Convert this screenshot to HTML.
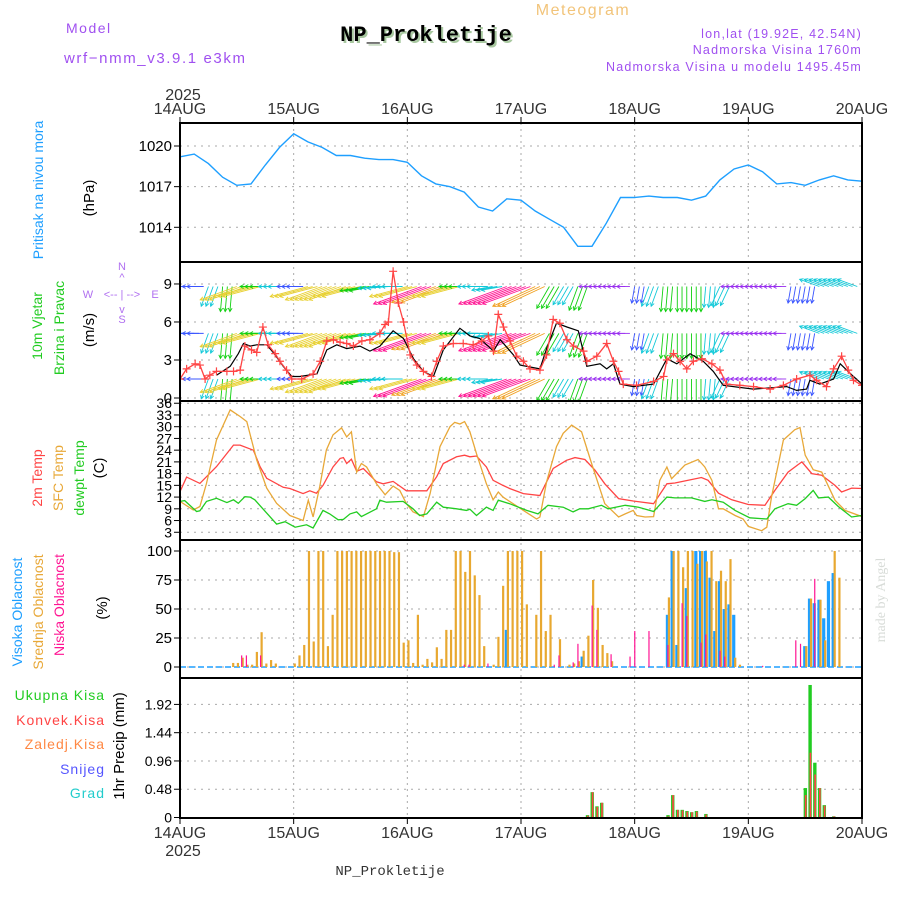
<!DOCTYPE html>
<html><head><meta charset="utf-8">
<style>
html,body{margin:0;padding:0;background:#fff;}
svg{display:block;font-family:"Liberation Sans",sans-serif;}
</style></head>
<body>
<svg id="chart" width="900" height="900" viewBox="0 0 900 900" xmlns="http://www.w3.org/2000/svg">
<defs>
<clipPath id="cP"><rect x="180" y="123" width="682" height="139"/></clipPath>
<clipPath id="cW"><rect x="180" y="262" width="682" height="139"/></clipPath>
<clipPath id="cT"><rect x="180" y="401" width="682" height="139"/></clipPath>
<clipPath id="cC"><rect x="180" y="540" width="682" height="138"/></clipPath>
<clipPath id="cR"><rect x="180" y="678" width="682" height="140"/></clipPath>
</defs>
<g id="header">
<text x="583" y="15" text-anchor="middle" font-size="16" fill="#f2c47a" letter-spacing="1.5">Meteogram</text>
<text x="428" y="43" text-anchor="middle" font-size="22" font-weight="bold" font-family="Liberation Mono, monospace" fill="#a8c8a0">NP_Prokletije</text>
<text x="426" y="41" text-anchor="middle" font-size="22" font-weight="bold" font-family="Liberation Mono, monospace" fill="#000">NP_Prokletije</text>
<text x="66" y="33" font-size="14" fill="#a050f0" letter-spacing="1.5">Model</text>
<text x="64" y="63" font-size="15" fill="#a050f0" letter-spacing="1.6">wrf−nmm_v3.9.1  e3km</text>
<text x="862" y="38" text-anchor="end" font-size="12.5" fill="#a050f0" letter-spacing="1.2">lon,lat (19.92E, 42.54N)</text>
<text x="862" y="54" text-anchor="end" font-size="12.5" fill="#a050f0" letter-spacing="1.2">Nadmorska Visina 1760m</text>
<text x="862" y="71" text-anchor="end" font-size="12.5" fill="#a050f0" letter-spacing="1.2">Nadmorska Visina u modelu 1495.45m</text>
</g>
<g id="labels">
<text transform="translate(43,190) rotate(-90)" text-anchor="middle" font-size="14" fill="#1e9fff">Pritisak na nivou mora</text>
<text transform="translate(94,198) rotate(-90)" text-anchor="middle" font-size="15" fill="#000">(hPa)</text>
<text transform="translate(42,326) rotate(-90)" text-anchor="middle" font-size="14" fill="#22cc22">10m Vjetar</text>
<text transform="translate(64,328) rotate(-90)" text-anchor="middle" font-size="14" fill="#22cc22">Brzina i Pravac</text>
<text transform="translate(94,330) rotate(-90)" text-anchor="middle" font-size="15" fill="#000">(m/s)</text>
<g fill="#b070f0" font-size="11">
<text x="122" y="270" text-anchor="middle">N</text>
<text x="122" y="281" text-anchor="middle">^</text>
<text x="88" y="298" text-anchor="middle">W</text>
<text x="122" y="298" text-anchor="middle">&lt;-- | --&gt;</text>
<text x="155" y="298" text-anchor="middle">E</text>
<text x="122" y="313" text-anchor="middle">v</text>
<text x="122" y="323" text-anchor="middle">S</text>
</g>
<text transform="translate(42,478) rotate(-90)" text-anchor="middle" font-size="14" fill="#ff4444">2m Temp</text>
<text transform="translate(63,478) rotate(-90)" text-anchor="middle" font-size="14" fill="#e8a838">SFC Temp</text>
<text transform="translate(84,478) rotate(-90)" text-anchor="middle" font-size="14" fill="#22cc22">dewpt Temp</text>
<text transform="translate(104,468) rotate(-90)" text-anchor="middle" font-size="15" fill="#000">(C)</text>
<text transform="translate(22,612) rotate(-90)" text-anchor="middle" font-size="14" fill="#1e9fff">Visoka Oblacnost</text>
<text transform="translate(43,612) rotate(-90)" text-anchor="middle" font-size="14" fill="#e8a838">Srednja Oblacnost</text>
<text transform="translate(64,605) rotate(-90)" text-anchor="middle" font-size="14" fill="#ff1493">Niska Oblacnost</text>
<text transform="translate(107,608) rotate(-90)" text-anchor="middle" font-size="15" fill="#000">(%)</text>
<g font-size="14" text-anchor="end" letter-spacing="1">
<text x="105" y="700" fill="#22cc22">Ukupna  Kisa</text>
<text x="105" y="725" fill="#ff4444">Konvek.Kisa</text>
<text x="105" y="749" fill="#ff8844">Zaledj.Kisa</text>
<text x="105" y="774" fill="#5555ff">Snijeg</text>
<text x="105" y="798" fill="#22cccc">Grad</text>
</g>
<text transform="translate(124,746) rotate(-90)" text-anchor="middle" font-size="15" fill="#000">1hr Precip (mm)</text>
<text transform="translate(885,600) rotate(-90)" text-anchor="middle" font-size="14" font-family="Liberation Serif, serif" fill="#d8dcd8">made by Angel</text>
<text x="390" y="875" text-anchor="middle" font-size="14" font-family="Liberation Mono, monospace" fill="#333">NP_Prokletije</text>
<text x="183" y="100" text-anchor="middle" font-size="16" fill="#333">2025</text>
<text x="183" y="856" text-anchor="middle" font-size="16" fill="#333">2025</text>
</g>
<g id="grid"></g>
<g id="marks"></g>
<g id="frames"></g>
</svg>
<script>
// ---- data ----
const dayLabels = ["14AUG","15AUG","16AUG","17AUG","18AUG","19AUG","20AUG"];
const pressTicks = [1020,1017,1014];
const windTicks = [0,3,6,9];
const tempTicks = [3,6,9,12,15,18,21,24,27,30,33,36];
const cloudTicks = [0,25,50,75,100];
const precipTicks = [0,0.48,0.96,1.44,1.92];

const pressHours = [0,3,6,9,12,15,18,21,24,27,30,33,36,39,42,45,48,51,54,57,60,63,66,69,72,75,78,81,84,87,90,93,96,99,102,105,108,111,114,117,120,123,126,129,132,135,138,141,144];
const pressValues = [1019.2,1019.4,1018.7,1017.7,1017.1,1017.2,1018.6,1019.9,1020.9,1020.3,1019.9,1019.3,1019.3,1019.1,1019.0,1019.0,1018.8,1017.8,1017.2,1017.0,1016.6,1015.5,1015.2,1016.1,1016.0,1015.2,1014.6,1014.0,1012.6,1012.6,1014.3,1016.2,1016.2,1016.3,1016.2,1016.2,1016.0,1016.3,1017.5,1018.3,1018.6,1018.1,1017.2,1017.3,1017.1,1017.5,1017.8,1017.5,1017.4];

const speedHours = [0,1.4,3.2,4.2,5.3,6.3,7.7,9.9,11.3,12.7,13.7,15.1,16.2,17.5,18.6,20.1,21.1,22.5,23.6,25.7,28.1,29.6,31.0,32.4,33.8,35.2,36.6,38.4,40.1,42.2,43.3,44.0,45.0,46.1,47.2,48.6,50.0,51.4,53.1,54.2,55.6,57.7,59.8,61.9,63.7,65.1,66.2,67.2,68.3,69.7,71.1,72.5,73.9,76.0,77.4,78.8,80.2,81.7,83.1,85.2,85.9,88.0,90.1,91.5,92.6,93.6,96.4,100.0,102.1,102.8,104.2,105.6,107.0,108.4,110.2,112.3,114.0,115.4,118.2,121.1,124.6,127.4,130.2,133.0,134.4,136.5,138.0,139.7,141.1,142.2,144];
const speedValues = [1.5,2.3,2.7,2.6,1.5,1.8,2.1,2.1,2.1,2.2,4.1,3.8,3.6,5.6,4.2,3.5,2.9,2.2,1.5,1.5,1.9,2.9,4.5,4.6,4.4,4.3,4.1,4.5,4.6,5.1,5.8,6.0,10.0,7.5,6.0,3.4,2.6,2.1,1.7,2.9,4.1,4.3,4.3,4.2,4.5,4.9,3.7,6.6,5.6,4.5,3.3,2.9,2.3,2.2,3.4,6.2,5.9,4.6,4.1,3.7,2.9,3.3,4.3,2.9,2.1,1.1,1.0,1.3,1.7,3.0,3.5,2.9,2.3,2.9,3.1,2.7,2.2,1.1,1.0,0.9,0.7,1.0,1.5,1.8,1.4,0.9,2.3,3.3,2.2,1.4,1.0];
const gustHours = [7.7,10.6,12.3,13.4,14.8,16.2,18.3,20.1,21.8,23.6,25.3,28.9,31.0,33.1,35.2,38.0,40.1,42.2,45.0,47.2,49.3,51.4,53.5,55.6,59.1,61.2,63.3,66.2,67.6,70.4,71.8,76.0,77.4,79.5,81.7,84.1,85.9,88.7,90.1,91.5,92.9,95.7,100.0,102.8,104.9,107.7,110.5,112.6,114.7,121.1,128.1,130.2,132.3,133.0,135.1,138.0,139.4,142.2,144];
const gustValues = [1.8,2.5,3.5,4.3,4.1,4.2,4.2,3.4,2.5,1.7,1.7,1.9,3.8,4.2,3.9,4.1,3.7,4.1,5.3,4.7,3.1,2.1,1.7,3.8,5.5,4.9,4.7,3.7,4.6,3.4,2.6,2.3,3.9,5.9,5.6,5.3,2.5,2.7,2.3,2.7,1.1,0.9,1.1,3.1,2.7,3.5,2.9,2.1,1.0,0.7,0.9,0.6,0.7,1.4,1.1,1.5,2.7,1.7,1.1];

const arrowHours = [0,3,6,9,12,15,18,21,24,27,30,33,36,39,42,45,48,51,54,57,60,63,66,69,72,75,78,81,84,87,90,93,96,99,102,105,108,111,114,117,120,123,126,129,132,135,138,141];
const arrowDirs = [180,180,110,95,160,165,180,180,180,165,160,160,165,170,175,180,165,160,160,165,180,180,170,160,160,155,120,120,110,180,180,180,100,110,95,90,90,95,115,180,180,180,180,100,100,200,200,200];
const arrowSpeeds = [2.5,1.8,2.5,3.2,5.5,5.5,3.2,2.5,1.8,5.5,5.5,5.5,5.5,3.2,2.5,2.5,5.5,7.5,6.8,5.5,3.2,2.5,2.5,7.5,7.5,6.8,3.2,2.5,3.2,1.2,1.2,1.2,1.8,2.5,3.2,3.2,3.2,2.5,2.5,1.2,1.2,1.2,1.2,1.8,1.8,2.5,2.5,2.5];
const arrowRowLevels = [8.8,5.1,1.5];

const t2mHours = [0,1.4,4.2,7.7,11.3,12.7,15.5,16.9,18.3,21.8,23.2,26.0,27.4,28.8,30.2,32.3,33.8,34.5,35.2,36.2,37.3,38.7,41.5,42.9,45.0,46.4,47.8,52.1,54.2,55.6,58.4,60.1,61.2,62.6,64.7,66.1,68.2,69.6,72.5,76.0,78.8,81.6,83.4,85.5,87.6,89.7,92.6,95.7,100.0,102.8,104.5,107.3,110.1,111.5,113.7,116.5,120.0,123.5,125.6,128.4,130.5,131.3,133.4,135.5,138.3,139.7,141.8,144];
const t2mValues = [13.4,17.1,15.5,19.8,25.3,25.3,24.0,19.8,16.8,14.5,14.2,12.9,13.6,13.0,15.0,19.7,21.9,22.1,20.6,21.7,18.6,19.3,15.9,15.4,16.0,14.8,13.6,13.6,17.2,20.6,22.3,22.7,22.3,22.5,19.7,16.3,15.0,14.2,12.9,12.4,19.3,21.4,22.1,21.6,18.9,15.4,11.6,11.0,10.3,15.4,15.6,16.3,17.0,16.3,13.0,11.3,10.1,9.9,13.7,18.4,20.3,21.0,18.0,17.6,15.0,13.3,14.3,14.2];
const sfcHours = [0,2.8,4.2,5.6,7.7,10.6,12.7,14.1,16.2,18.3,20.4,23.2,26.0,27.1,28.1,29.5,30.9,32.3,34.1,35.2,36.2,37.3,38.3,39.4,41.5,43.3,45.0,46.4,47.8,49.2,51.4,52.8,54.9,57.0,58.0,59.1,60.1,61.2,62.6,64.7,66.1,67.2,68.2,72.5,75.3,76.0,77.4,79.5,80.9,82.7,84.8,86.9,89.7,92.6,94.0,95.7,96.4,98.2,100.0,101.3,102.8,103.8,106.6,109.4,110.8,112.3,113.7,114.7,117.2,118.9,120.0,122.8,123.9,124.9,127.4,129.8,130.9,132.0,133.7,135.5,138.3,140.4,144];
const sfcValues = [10.9,8.7,9.6,15.5,26.6,34.3,32.6,31.3,21.5,14.3,10.4,7.3,6.0,11.2,6.9,14.6,24.0,27.9,29.7,27.4,28.7,18.4,20.6,19.7,15.4,12.6,14.8,13.7,10.3,8.2,7.0,12.9,24.9,30.0,31.1,30.7,31.3,28.7,23.1,15.4,11.3,13.3,12.0,8.6,6.4,6.9,15.9,24.9,28.3,30.4,28.7,20.6,10.3,6.9,7.7,8.6,7.3,6.9,7.0,16.3,19.7,16.7,20.2,21.6,19.7,16.3,9.0,9.0,7.3,6.4,4.5,3.4,4.3,12.0,26.6,29.2,29.8,22.7,19.0,18.4,11.2,8.6,7.0];
const dewHours = [0,1,3.5,4.2,5.6,7.7,9.9,11.3,12.3,13.7,14.8,15.8,18.3,20.4,22.2,24.3,26.7,28.1,30.2,31.6,33.4,34.5,35.9,37.3,38.3,41.5,42.2,43.6,47.1,49.2,50.6,52.1,54.2,55.6,58.4,60.5,61.2,62.6,64.7,66.1,67.2,69.6,73.2,75.6,77.7,80.9,83.0,84.4,86.2,89.0,90.4,94.0,96.8,100.0,102.8,104.5,108.0,110.8,112.3,114.7,117.2,120.3,123.9,125.6,128.4,130.2,132.0,133.7,134.8,136.9,139.0,141.8,144];
const dewValues = [10.9,11.1,8.3,8.5,10.9,11.7,10.6,11.3,10.4,12.1,12.0,11.3,7.9,5.1,5.7,4.3,4.9,4.1,8.6,7.7,6.2,6.3,7.7,8.2,7.0,9.0,11.2,10.7,10.9,9.0,7.3,7.7,10.7,9.4,9.0,8.6,8.9,7.3,9.4,8.6,11.2,10.3,8.6,7.7,9.9,9.4,8.2,9.0,9.0,9.9,9.0,9.9,9.4,8.3,12.0,11.8,11.8,10.9,11.3,10.7,8.6,6.7,6.4,9.0,10.3,9.9,11.6,13.7,11.8,12.0,9.6,6.9,7.3];

const midCloudHours = [11,12,13,14,15,16,17,18,19,20,24,25,26,27,28,29,30,31,32,33,34,35,36,37,38,39,40,41,42,43,44,45,46,47,48,49,50,51,52,53,54,55,56,57,58,59,60,61,62,63,64,66,67,68,69,70,71,72,73,75,76,77,78,80,82,83,84,85,86,87,88,89,90,91,103,104,105,106,107,108,109,110,111,112,113,114,115,116,117,118,132,133,135,136,138,139];
const midCloudValues = [3.5,3.5,8,2,2,13,30,3,6,3,3,10,19,100,22,100,100,18,45,100,100,100,100,100,100,100,100,100,100,100,100,99,99,21,23,3.5,45,2,7,4,17,7,32,32,100,100,82,100,79,62,18,2,26,70,100,100,100,100,54,45,100,31,45,24,2,3,5,14,27,75,51,19,12,5,60,100,100,86,100,100,89,100,91,100,74,83,74,93,8,2,18,59,58,23,100,77];
const highCloudHours = [69,85,103,104,105,107,109,110,111,112,113,114,115,116,117,132,133,134,135,136,137,138];
const highCloudValues = [32,9,45,100,19,68,100,100,100,77,31,74,50,54,45,18,59,55,58,42,74,81];
const lowCloudHours = [13,14,17,60,61,65,79,80,83,84,87,88,91,95,96,99,103,106,107,110,111,114,115,123,130,131,134];
const lowCloudValues = [10,10,10,2,2,3,2,10,4,20,53,32,11,9,31,31,19,55,44,21,28,14,9,1,23,20,76];

const precipHours = [86,87,88,89,103,104,105,106,107,108,109,111,132,133,134,135,136,138];
const totalPrecip = [0.04,0.43,0.19,0.25,0.04,0.38,0.13,0.13,0.11,0.09,0.11,0.06,0.50,2.25,0.93,0.50,0.21,0.02];
const convPrecip = [0.03,0.43,0.18,0.25,0.02,0.38,0.13,0.12,0.10,0.09,0.10,0.05,0.38,1.10,0.73,0.50,0.20,0.02];

// ---- scales ----
const X0=180, X1=862, HOURS=144;
const X = h => X0 + h*(X1-X0)/HOURS;
const yP = v => 146 + (1020-v)*13.55;
const yW = v => 398 - v*12.67;
const yT = v => 544 - v*3.91;
const yC = v => 667 - v*1.16;
const yR = v => 817.5 - v*58.9;
const panels = [[123,262],[262,401],[401,540],[540,678],[678,818]];

const NS="http://www.w3.org/2000/svg";
function mk(tag, parent){ const e=document.createElementNS(NS,tag); parent.appendChild(e); return e; }
const grid=document.getElementById('grid'), marks=document.getElementById('marks'), frames=document.getElementById('frames');

dayLabels.forEach((lab,i)=>{
  const x=X(i*24);
  if(i>0 && i<6){
    const l=mk('line',grid);
    
    
    l.setAttribute('x1',x);l.setAttribute('x2',x);l.setAttribute('y1',123);l.setAttribute('y2',818);
    l.setAttribute('stroke','#aaa');l.setAttribute('stroke-dasharray','2,4');
  }
  const t=mk('text',grid);
  
  
  t.setAttribute('x',x);t.setAttribute('y',114);t.setAttribute('text-anchor','middle');t.setAttribute('font-size','16');t.setAttribute('fill','#333');
  t.textContent=lab;
  const b=mk('text',grid);
  
  
  b.setAttribute('x',x);b.setAttribute('y',838);b.setAttribute('text-anchor','middle');b.setAttribute('font-size','16');b.setAttribute('fill','#333');
  b.textContent=lab;
  [123,818].forEach(yy=>{
    const tk=mk('line',grid);
    
    
    tk.setAttribute('x1',x);tk.setAttribute('x2',x);tk.setAttribute('y1',yy==123?117:818);tk.setAttribute('y2',yy==123?123:824);tk.setAttribute('stroke','#000');
  });
});

function yTicks(ticks, fy, name, fmt, fs){
  ticks.forEach(v=>{
    const y=fy(v);
    const l=mk('line',grid);
    
    
    l.setAttribute('x1',180);l.setAttribute('x2',862);l.setAttribute('y1',y);l.setAttribute('y2',y);
    l.setAttribute('stroke','#aaa');l.setAttribute('stroke-dasharray','2,5');
    const tk=mk('line',grid);
    
    
    tk.setAttribute('x1',174);tk.setAttribute('x2',180);tk.setAttribute('y1',y);tk.setAttribute('y2',y);tk.setAttribute('stroke','#000');
    const t=mk('text',grid);
    
    
    t.setAttribute('x',172);t.setAttribute('y',y+5);t.setAttribute('text-anchor','end');t.setAttribute('font-size',fs);t.setAttribute('fill','#000');
    t.textContent=fmt(v);
  });
}
yTicks(pressTicks,yP,'pressure',v=>String(v),15);
yTicks(windTicks,yW,'wind',v=>String(v),15);
yTicks(tempTicks,yT,'temp',v=>String(v),14);
yTicks(cloudTicks,yC,'cloud',v=>String(v),15);
yTicks(precipTicks,yR,'precip',v=>v===0?'0':v.toFixed(2),14);

function polyline(hs, vs, fy, color, clip, name, w){
  const p=mk('polyline',marks);
  
  
  p.setAttribute('points',hs.map((h,i)=>X(h).toFixed(1)+','+fy(vs[i]).toFixed(1)).join(' '));
  p.setAttribute('fill','none');p.setAttribute('stroke',color);p.setAttribute('stroke-width',w||1.3);
  p.setAttribute('clip-path','url(#'+clip+')');
  return p;
}
polyline(pressHours,pressValues,yP,'#1e9fff','cP','pressure-line',1.4);

const speedColor = s => s<1.5?'#9a30f0':s<2?'#3a55ff':s<2.8?'#10c8d8':s<4?'#10d010':s<6?'#e8d030':s<7?'#f0a020':s<7.2?'#ff4040':'#ff1493';
arrowHours.forEach((h,i)=>{
  const a=arrowDirs[i]*Math.PI/180, s=arrowSpeeds[i];
  const len=6+s*6, col=speedColor(s);
  for(let k=0;k<3;k++){
    arrowRowLevels.forEach(lv=>{
      const x0=X(h+k), y0=yW(lv);
      const x1=x0+Math.cos(a)*len, y1=y0+Math.sin(a)*len;
      const g=mk('g',marks);
      
      
      g.setAttribute('clip-path','url(#cW)');
      g.setAttribute('stroke',col);g.setAttribute('stroke-width','0.9');g.setAttribute('fill','none');
      const l=mk('line',g);
      l.setAttribute('x1',x0);l.setAttribute('y1',y0);l.setAttribute('x2',x1);l.setAttribute('y2',y1);
      const hd=mk('polyline',g);
      const ha=0.5, hl=4;
      hd.setAttribute('points',(x1-Math.cos(a-ha)*hl)+','+(y1-Math.sin(a-ha)*hl)+' '+x1+','+y1+' '+(x1-Math.cos(a+ha)*hl)+','+(y1-Math.sin(a+ha)*hl));
    });
  }
});
polyline(gustHours,gustValues,yW,'#000','cW','wind-speed-black-line',1.2);
polyline(speedHours,speedValues,yW,'#ff4444','cW','wind-speed-line',1.3);
speedHours.forEach((h,i)=>{
  const x=X(h), y=yW(speedValues[i]);
  const pth=mk('path',marks);
  
  
  pth.setAttribute('d','M'+(x-4)+','+y+'h8M'+x+','+(y-4)+'v8');
  pth.setAttribute('stroke','#ff4444');pth.setAttribute('stroke-width','1.2');
  pth.setAttribute('clip-path','url(#cW)');
});

polyline(t2mHours,t2mValues,yT,'#ff4444','cT','t2m-line',1.3);
polyline(sfcHours,sfcValues,yT,'#e8a838','cT','sfc-temp-line',1.3);
polyline(dewHours,dewValues,yT,'#22cc22','cT','dewpoint-line',1.3);

const base=mk('line',marks);


base.setAttribute('x1',180);base.setAttribute('x2',862);base.setAttribute('y1',yC(0));base.setAttribute('y2',yC(0));
base.setAttribute('stroke','#1e9fff');base.setAttribute('stroke-width','1.5');base.setAttribute('stroke-dasharray','6,3');
function bars(hs, vs, fy, color, dx, w, name, clip){
  hs.forEach((h,i)=>{
    const r=mk('rect',marks);
    
    
    const y0=fy(0), y1=fy(vs[i]);
    r.setAttribute('x',X(h)+dx);r.setAttribute('y',y1);r.setAttribute('width',w);r.setAttribute('height',Math.max(0.5,y0-y1));
    r.setAttribute('fill',color);r.setAttribute('clip-path','url(#'+clip+')');
  });
}
bars(highCloudHours,highCloudValues,yC,'#1e9fff',-2,3.2,'high-cloud-bar','cC');
bars(midCloudHours,midCloudValues,yC,'#e8a830',0,2.2,'mid-cloud-bar','cC');
bars(lowCloudHours,lowCloudValues,yC,'#ff1493',-0.5,1.2,'low-cloud-bar','cC');

bars(precipHours,totalPrecip,yR,'#22cc22',-1.5,3.4,'total-precip-bar','cR');
bars(precipHours,convPrecip,yR,'#ff4444',-0.3,1.6,'convective-precip-bar','cR');

panels.forEach(([a,b],i)=>{
  const r=mk('rect',frames);
  
  
  r.setAttribute('x',180);r.setAttribute('y',a);r.setAttribute('width',682);r.setAttribute('height',b-a);
  r.setAttribute('fill','none');r.setAttribute('stroke','#000');r.setAttribute('stroke-width','2');
});
</script>
</body></html>
